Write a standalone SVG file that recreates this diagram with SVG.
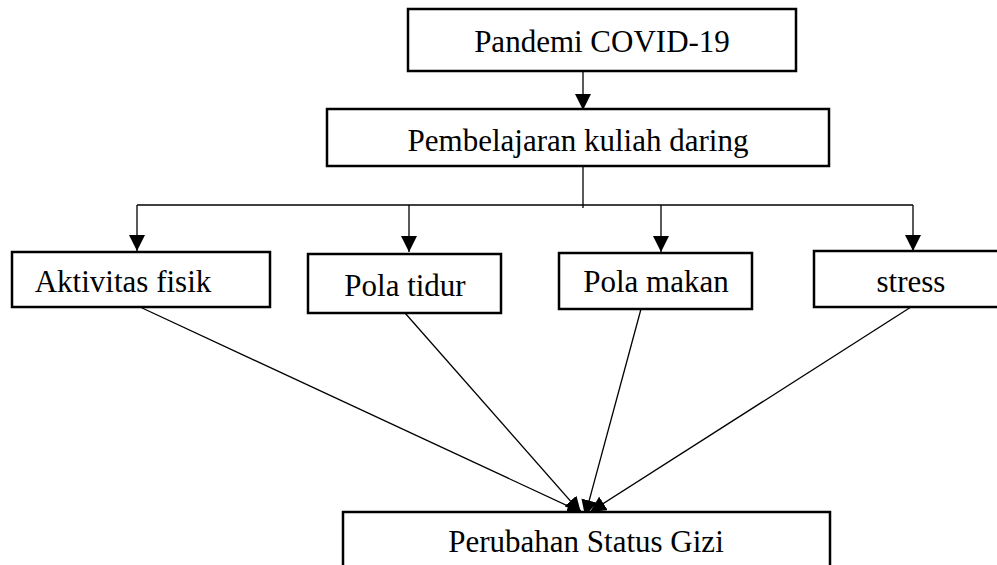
<svg xmlns="http://www.w3.org/2000/svg" width="997" height="565" viewBox="0 0 997 565">
<style>
.box{fill:#fff;stroke:#000;stroke-width:2.5}
text{font-family:'Liberation Serif','Times New Roman',Times,'DejaVu Serif',serif;font-size:31px;fill:#000;text-anchor:middle}
.c{fill:none;stroke:#000;stroke-width:1.3}
</style>
<defs>
<marker id="ah" markerUnits="userSpaceOnUse" markerWidth="16" markerHeight="16" refX="15" refY="7.5" orient="auto" viewBox="0 0 15 15">
<path d="M0,0 L15,7.5 L0,15 Z" fill="#000"/>
</marker>
</defs>
<rect width="997" height="565" fill="#fff"/>
<g id="connectors">
<path class="c" d="M583,71 V110" marker-end="url(#ah)"/>
<path class="c" d="M583,166 V208"/>
<path class="c" d="M137,205 H913"/>
<path class="c" d="M137,205 V251" marker-end="url(#ah)"/>
<path class="c" d="M409,205 V252" marker-end="url(#ah)"/>
<path class="c" d="M661,205 V252" marker-end="url(#ah)"/>
<path class="c" d="M913,205 V251" marker-end="url(#ah)"/>
<path class="c" d="M140,307 L583,513" marker-end="url(#ah)"/>
<path class="c" d="M405,313 L581,513" marker-end="url(#ah)"/>
<path class="c" d="M641,309 L585,516" marker-end="url(#ah)"/>
<path class="c" d="M911,307 L590,512" marker-end="url(#ah)"/>
</g>
<g id="n1"><rect class="box" x="408" y="9" width="388" height="62"/><text x="602" y="52" font-family="Liberation Serif, serif">Pandemi COVID-19</text></g>
<g id="n2"><rect class="box" x="327" y="109" width="502" height="57"/><text x="578" y="151" font-family="Liberation Serif, serif">Pembelajaran kuliah daring</text></g>
<g id="n3"><rect class="box" x="12" y="252" width="258" height="55"/><text x="123" y="292" font-family="Liberation Serif, serif">Aktivitas fisik</text></g>
<g id="n4"><rect class="box" x="308" y="254" width="193" height="59"/><text x="405" y="296" font-family="Liberation Serif, serif">Pola tidur</text></g>
<g id="n5"><rect class="box" x="559" y="253" width="193" height="56"/><text x="656" y="292" font-family="Liberation Serif, serif">Pola makan</text></g>
<g id="n6"><rect class="box" x="814" y="251" width="200" height="56"/><text x="911" y="292" font-family="Liberation Serif, serif">stress</text></g>
<g id="n7"><rect class="box" x="343" y="512" width="487" height="70"/><text x="586" y="552" font-family="Liberation Serif, serif">Perubahan Status Gizi</text></g>
</svg>
